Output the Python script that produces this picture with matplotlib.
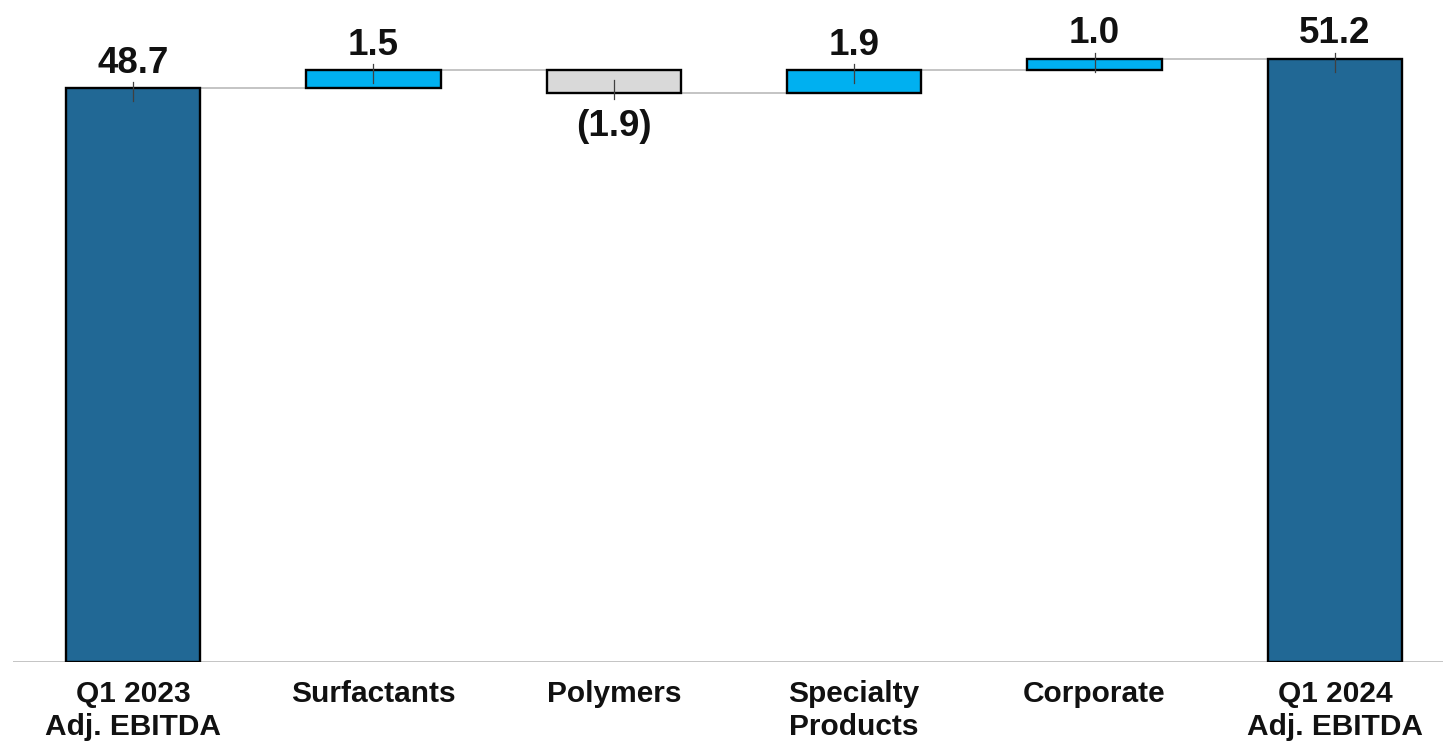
import matplotlib
matplotlib.use("Agg")
import matplotlib.pyplot as plt

categories = ["Q1 2023\nAdj. EBITDA", "Surfactants", "Polymers",
              "Specialty\nProducts", "Corporate", "Q1 2024\nAdj. EBITDA"]
start_total = 48.7
changes = [1.5, -1.9, 1.9, 1.0]
end_total = 51.2
value_labels = ["48.7", "1.5", "(1.9)", "1.9", "1.0", "51.2"]

DARK = "#216895"
UP = "#00B0F0"
DOWN = "#D9D9D9"
LINK = "#BFBFBF"

plt.rcParams["font.family"] = ["Liberation Sans", "DejaVu Sans"]

fig = plt.figure(figsize=(14.43, 7.44), dpi=100)
ax = fig.add_axes([0.009, 0.110, 0.991, 0.890])

# Build bottoms / heights for the waterfall
bottoms, heights, colors = [0.0], [start_total], [DARK]
level = start_total
for c in changes:
    if c >= 0:
        bottoms.append(level)
        heights.append(c)
        colors.append(UP)
    else:
        bottoms.append(level + c)
        heights.append(-c)
        colors.append(DOWN)
    level += c
bottoms.append(0.0)
heights.append(end_total)
colors.append(DARK)

x = list(range(len(categories)))
width = 0.56
ax.bar(x, heights, bottom=bottoms, width=width, color=colors,
       edgecolor="black", linewidth=1.7, zorder=3)

# Connector lines between consecutive bars
levels = [start_total]
for c in changes:
    levels.append(levels[-1] + c)
for i in range(len(x) - 1):
    ax.plot([x[i] + width / 2, x[i + 1] - width / 2], [levels[i], levels[i]],
            color=LINK, linewidth=1.3, zorder=2, solid_capstyle="butt")

# Value labels and small centre markers
signs = [1] + [1 if c >= 0 else -1 for c in changes] + [1]
for i, (lab, s) in enumerate(zip(value_labels, signs)):
    edge = bottoms[i] + heights[i] if s > 0 else bottoms[i]
    ax.plot([x[i], x[i]], [edge - s * 1.1, edge + s * 0.5],
            color="#404040", linewidth=0.9, zorder=4)
    offset = 11 if s > 0 else -31
    ax.annotate(lab, (x[i], edge), xytext=(0, offset), textcoords="offset points",
                ha="center", va="baseline", fontsize=26.5, fontweight="bold",
                color="#111111")

ax.axhline(0, color=LINK, linewidth=2, zorder=1)

ax.set_xlim(-0.5, 5.45)
ax.set_ylim(0, 56.17)
ax.set_xticks(x)
ax.set_xticklabels(categories, fontsize=21.5, fontweight="bold",
                   color="#111111", linespacing=1.2)
ax.tick_params(axis="x", length=0, pad=13)
ax.set_yticks([])
for sp in ax.spines.values():
    sp.set_visible(False)

fig.savefig("out.png", dpi=100, facecolor="white")
